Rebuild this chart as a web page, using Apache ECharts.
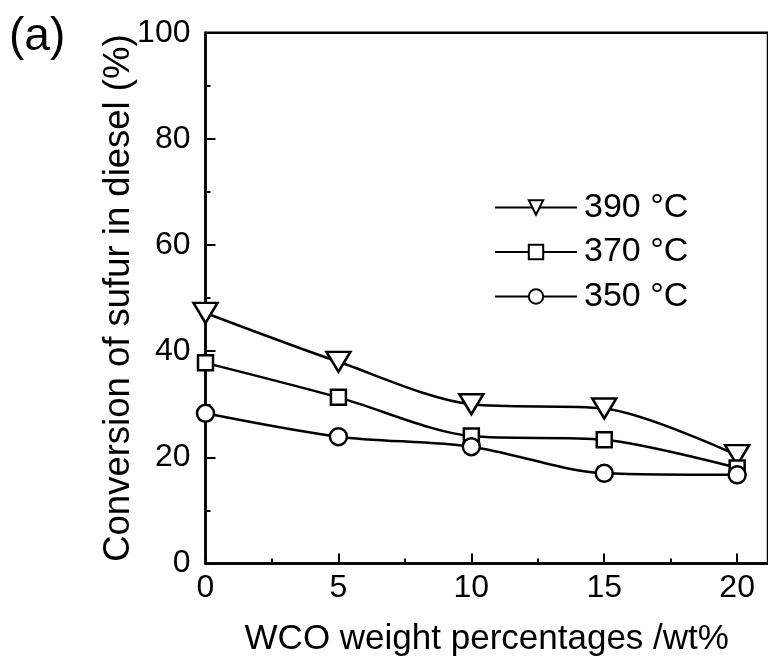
<!DOCTYPE html>
<html>
<head>
<meta charset="utf-8">
<script src="https://cdn.jsdelivr.net/npm/echarts@6/dist/echarts.min.js"></script>
<style>html,body{margin:0;padding:0;background:#fff}#c{width:768px;height:667px}</style>
</head>
<body>
<div id="c"></div>
<script>
const xValues = [0, 5, 10, 15, 20];
const s390 = [47.2, 38.0, 30.0, 29.2, 20.4];
const s370 = [37.8, 31.3, 24.0, 23.3, 18.0];
const s350 = [28.3, 23.9, 22.0, 17.0, 16.7];
const seriesNames = ['390 °C', '370 °C', '350 °C'];
const xMajorTicks = [0, 5, 10, 15, 20];
const xMinorTicks = [2.5, 7.5, 12.5, 17.5];

const FONT = 'Liberation Sans, Arial, sans-serif';
const chart = echarts.init(document.getElementById('c'));
const pair = arr => xValues.map((x, i) => [x, arr[i]]);
const common = {
  type: 'line', smooth: 0.3, showAllSymbol: true,
  lineStyle: {color: '#000', width: 2.5},
  itemStyle: {color: '#fff', borderColor: '#000', borderWidth: 2.5},
  emphasis: {disabled: true}, animation: false, z: 3
};
chart.setOption({
  animation: false,
  grid: {left: 205.5, top: 32.7, bottom: 103.5, right: -7.5, show: true, borderColor: '#000', borderWidth: 2.5, containLabel: false},
  graphic: [{type: 'text', left: 9, top: 14, style: {text: '(a)', font: '46px ' + FONT, fill: '#000'}}],
  legend: {
    orient: 'vertical', left: 494, top: 190.5, padding: 0, itemWidth: 82, itemHeight: 18, itemGap: 10.5,
    textStyle: {fontFamily: FONT, fontSize: 34, color: '#000', padding: [0, 0, 0, 2]},
    data: seriesNames
  },
  xAxis: [{
    type: 'value', min: 0, max: 21.16, position: 'bottom',
    name: 'WCO weight percentages /wt%', nameLocation: 'middle', nameGap: 58, nameMoveOverlap: false,
    nameTextStyle: {fontFamily: FONT, fontSize: 35, color: '#000'},
    axisLine: {show: true, onZero: false, lineStyle: {color: '#000', width: 2.5}},
    axisTick: {show: true, inside: true, length: 10, lineStyle: {color: '#000', width: 2}, customValues: xMajorTicks},
    axisLabel: {fontFamily: FONT, fontSize: 32, color: '#000', margin: 9, customValues: xMajorTicks},
    splitLine: {show: false}
  }, {
    type: 'value', min: 0, max: 21.16, position: 'bottom', gridIndex: 0,
    axisLine: {show: false},
    axisTick: {show: true, inside: true, length: 5, lineStyle: {color: '#000', width: 2}, customValues: xMinorTicks},
    axisLabel: {show: false},
    splitLine: {show: false}
  }],
  yAxis: {
    type: 'value', min: 0, max: 100, interval: 20,
    name: 'Conversion of sufur in diesel (%)', nameLocation: 'middle', nameGap: 68, nameMoveOverlap: false,
    nameTextStyle: {fontFamily: FONT, fontSize: 36.5, color: '#000'},
    axisLine: {show: true, lineStyle: {color: '#000', width: 2.5}},
    axisTick: {show: true, inside: true, length: 10, lineStyle: {color: '#000', width: 2}},
    minorTick: {show: true, splitNumber: 2, length: 5, lineStyle: {color: '#000', width: 2}},
    axisLabel: {fontFamily: FONT, fontSize: 32, color: '#000', margin: 15},
    splitLine: {show: false}
  },
  series: [
    Object.assign({}, common, {name: seriesNames[0], data: pair(s390), symbol: 'triangle', symbolRotate: 180, symbolSize: [24, 20]}),
    Object.assign({}, common, {name: seriesNames[1], data: pair(s370), symbol: 'rect', symbolSize: 15}),
    Object.assign({}, common, {name: seriesNames[2], data: pair(s350), symbol: 'circle', symbolSize: 17})
  ]
});
</script>
</body>
</html>
